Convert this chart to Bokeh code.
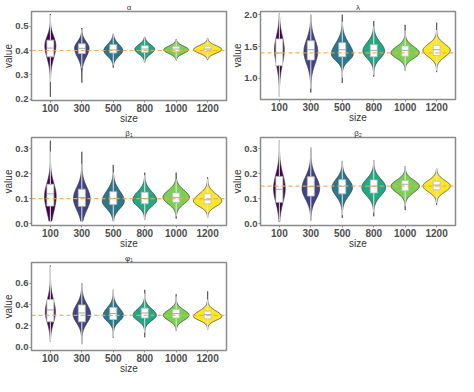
import numpy as np
from bokeh.plotting import figure
from bokeh.layouts import gridplot
from bokeh.models import Range1d, FixedTicker, Span, NumeralTickFormatter
from bokeh.embed import file_html
from bokeh.resources import INLINE

SIZES = ["100", "300", "500", "800", "1000", "1200"]
COLORS = ["#440154", "#414487", "#2A788E", "#22A884", "#7AD151", "#FDE725"]

# ---- alpha ----
ALPHA_LO = [0.21, 0.268, 0.33, 0.352, 0.36, 0.362]
ALPHA_HI = [0.55, 0.492, 0.468, 0.455, 0.446, 0.45]
ALPHA_MODE = [0.42, 0.41, 0.40, 0.405, 0.403, 0.404]
ALPHA_SD_DN = [0.05, 0.037, 0.023, 0.019, 0.015, 0.015]
ALPHA_SD_UP = [0.037, 0.026, 0.025, 0.019, 0.015, 0.016]
ALPHA_WIDTH = [0.35, 0.46, 0.60, 0.63, 0.79, 0.90]
ALPHA_Q1 = [0.374, 0.3875, 0.39, 0.3925, 0.395, 0.396]
ALPHA_MED = [0.41, 0.409, 0.4025, 0.406, 0.406, 0.406]
ALPHA_Q3 = [0.4425, 0.4275, 0.424, 0.42, 0.4175, 0.4175]
ALPHA_TRUE = 0.4

# ---- lambda ----
LAMBDA_LO = [0.72, 0.78, 0.93, 1.03, 1.12, 1.10]
LAMBDA_HI = [2.02, 2.00, 2.00, 1.90, 1.84, 1.875]
LAMBDA_MODE = [1.45, 1.42, 1.38, 1.43, 1.40, 1.44]
LAMBDA_SD_DN = [0.23, 0.19, 0.10, 0.115, 0.085, 0.10]
LAMBDA_SD_UP = [0.21, 0.19, 0.17, 0.135, 0.10, 0.10]
LAMBDA_WIDTH = [0.31, 0.44, 0.69, 0.69, 0.90, 0.87]
LAMBDA_Q1 = [1.20, 1.29, 1.34, 1.34, 1.35, 1.36]
LAMBDA_MED = [1.40, 1.45, 1.45, 1.44, 1.44, 1.45]
LAMBDA_Q3 = [1.62, 1.59, 1.56, 1.53, 1.51, 1.52]
LAMBDA_TRUE = 1.4

# ---- beta1 ----
BETA1_LO = [0.01, 0.01, 0.01, 0.016, 0.02, 0.0225]
BETA1_HI = [0.3325, 0.2875, 0.235, 0.204, 0.204, 0.185]
BETA1_MODE = [0.11, 0.10, 0.09, 0.095, 0.105, 0.09]
BETA1_SD_DN = [0.06, 0.045, 0.03, 0.026, 0.026, 0.021]
BETA1_SD_UP = [0.05, 0.045, 0.04, 0.032, 0.028, 0.028]
BETA1_WIDTH = [0.37, 0.53, 0.70, 0.76, 0.84, 0.90]
BETA1_Q1 = [0.07, 0.069, 0.076, 0.079, 0.085, 0.079]
BETA1_MED = [0.119, 0.104, 0.101, 0.10, 0.105, 0.095]
BETA1_Q3 = [0.1575, 0.1375, 0.1275, 0.125, 0.1225, 0.119]
BETA1_TRUE = 0.1

# ---- beta2 ----
BETA2_LO = [0.0075, 0.0125, 0.0225, 0.029, 0.054, 0.075]
BETA2_HI = [0.3325, 0.304, 0.251, 0.254, 0.229, 0.2225]
BETA2_MODE = [0.14, 0.14, 0.145, 0.145, 0.15, 0.15]
BETA2_SD_DN = [0.056, 0.042, 0.035, 0.033, 0.026, 0.023]
BETA2_SD_UP = [0.056, 0.047, 0.033, 0.033, 0.024, 0.023]
BETA2_WIDTH = [0.37, 0.56, 0.65, 0.76, 0.90, 0.87]
BETA2_Q1 = [0.085, 0.11, 0.119, 0.1225, 0.131, 0.135]
BETA2_MED = [0.1375, 0.1475, 0.15, 0.15, 0.1575, 0.154]
BETA2_Q3 = [0.189, 0.1875, 0.176, 0.175, 0.1725, 0.17]
BETA2_TRUE = 0.15

# ---- phi1 ----
PHI1_LO = [0.053, 0.03, 0.089, 0.094, 0.156, 0.164]
PHI1_HI = [0.767, 0.60, 0.539, 0.539, 0.497, 0.525]
PHI1_MODE = [0.33, 0.31, 0.30, 0.30, 0.30, 0.29]
PHI1_SD_DN = [0.10, 0.08, 0.056, 0.05, 0.047, 0.037]
PHI1_SD_UP = [0.115, 0.09, 0.07, 0.06, 0.05, 0.05]
PHI1_WIDTH = [0.32, 0.56, 0.64, 0.74, 0.82, 0.90]
PHI1_Q1 = [0.239, 0.239, 0.261, 0.275, 0.275, 0.267]
PHI1_MED = [0.35, 0.322, 0.317, 0.322, 0.317, 0.306]
PHI1_Q3 = [0.447, 0.397, 0.372, 0.367, 0.356, 0.339]
PHI1_TRUE = 0.3

PANELS = [
    dict(title="α", lo=ALPHA_LO, hi=ALPHA_HI, mode=ALPHA_MODE, sdn=ALPHA_SD_DN, sup=ALPHA_SD_UP,
         w=ALPHA_WIDTH, q1=ALPHA_Q1, med=ALPHA_MED, q3=ALPHA_Q3, true=ALPHA_TRUE,
         yr=(0.195, 0.56), ticks=[0.2, 0.3, 0.4, 0.5]),
    dict(title="λ", lo=LAMBDA_LO, hi=LAMBDA_HI, mode=LAMBDA_MODE, sdn=LAMBDA_SD_DN, sup=LAMBDA_SD_UP,
         w=LAMBDA_WIDTH, q1=LAMBDA_Q1, med=LAMBDA_MED, q3=LAMBDA_Q3, true=LAMBDA_TRUE,
         yr=(0.67, 2.05), ticks=[1.0, 1.5, 2.0]),
    dict(title="β₁", lo=BETA1_LO, hi=BETA1_HI, mode=BETA1_MODE, sdn=BETA1_SD_DN, sup=BETA1_SD_UP,
         w=BETA1_WIDTH, q1=BETA1_Q1, med=BETA1_MED, q3=BETA1_Q3, true=BETA1_TRUE,
         yr=(-0.008, 0.345), ticks=[0.0, 0.1, 0.2, 0.3]),
    dict(title="β₂", lo=BETA2_LO, hi=BETA2_HI, mode=BETA2_MODE, sdn=BETA2_SD_DN, sup=BETA2_SD_UP,
         w=BETA2_WIDTH, q1=BETA2_Q1, med=BETA2_MED, q3=BETA2_Q3, true=BETA2_TRUE,
         yr=(-0.008, 0.345), ticks=[0.0, 0.1, 0.2, 0.3]),
    dict(title="φ₁", lo=PHI1_LO, hi=PHI1_HI, mode=PHI1_MODE, sdn=PHI1_SD_DN, sup=PHI1_SD_UP,
         w=PHI1_WIDTH, q1=PHI1_Q1, med=PHI1_MED, q3=PHI1_Q3, true=PHI1_TRUE,
         yr=(-0.03, 0.795), ticks=[0.0, 0.2, 0.4, 0.6]),
]

FONT = "Liberation Sans"
BORDER = "#8a8a8a"


def make_panel(d, height):
    p = figure(width=229, height=height, x_range=Range1d(0.4, 6.6), y_range=Range1d(*d["yr"]),
               output_backend="svg", toolbar_location=None,
               min_border_left=0, min_border_right=3, min_border_top=0, min_border_bottom=0)
    p.title.text = d["title"]
    p.title.align = "center"
    p.title.text_font = FONT
    p.title.text_font_size = "8px"
    p.title.text_font_style = "normal"
    p.title.text_color = "#333333"
    p.title.standoff = 0
    p.title.offset = 0
    p.xgrid.visible = False
    p.ygrid.visible = False
    p.outline_line_color = BORDER
    p.outline_line_width = 1.5
    p.background_fill_color = "white"
    p.border_fill_color = "white"

    for i in range(len(SIZES)):
        x = i + 1
        lo, hi, m = d["lo"][i], d["hi"][i], d["mode"][i]
        y = np.linspace(lo, hi, 160)
        z = np.where(y < m, (y - m) / d["sdn"][i], (y - m) / d["sup"][i])
        hw = d["w"][i] / 2 * np.exp(-0.5 * z ** 2)
        xs = np.concatenate([x + hw, (x - hw)[::-1]])
        ys = np.concatenate([y, y[::-1]])
        p.patch(xs, ys, fill_color=COLORS[i], line_color="#2b2b2b", line_width=0.7)

        q1, med, q3 = d["q1"][i], d["med"][i], d["q3"][i]
        iqr = q3 - q1
        wtop = min(hi, q3 + 1.5 * iqr)
        wbot = max(lo, q1 - 1.5 * iqr)
        p.segment(x0=[x, x], y0=[q3, q1], x1=[x, x], y1=[wtop, wbot],
                  line_color="#e6e6e6", line_width=1)
        p.quad(left=x - 0.11, right=x + 0.11, bottom=q1, top=q3,
               fill_color="white", line_color="#bdbdbd", line_width=0.8)
        p.segment(x0=[x - 0.11], y0=[med], x1=[x + 0.11], y1=[med],
                  line_color="#a6a6a6", line_width=1)

    p.add_layout(Span(location=d["true"], dimension="width", line_color="#F5A942",
                      line_dash="4 3", line_width=1.2, line_alpha=0.9))

    for ax in (p.xaxis[0], p.yaxis[0]):
        ax.axis_line_color = None
        ax.major_tick_line_color = BORDER
        ax.major_tick_out = 2
        ax.major_tick_in = 0
        ax.minor_tick_line_color = None
        ax.major_label_text_font = FONT
        ax.major_label_text_font_style = "bold"
        ax.major_label_text_color = "#4d4d4d"
        ax.axis_label_text_font = FONT
        ax.axis_label_text_font_size = "10px"
        ax.axis_label_text_font_style = "normal"
        ax.axis_label_text_color = "#333333"
        ax.major_label_standoff = 1
        ax.axis_label_standoff = -2

    p.xaxis.major_label_text_font_size = "10px"
    p.yaxis.major_label_text_font_size = "9.5px"
    p.xaxis.ticker = FixedTicker(ticks=list(range(1, len(SIZES) + 1)))
    p.xaxis.major_label_overrides = {i + 1: s for i, s in enumerate(SIZES)}
    p.xaxis.axis_label = "size"
    p.yaxis.ticker = FixedTicker(ticks=d["ticks"])
    p.yaxis.formatter = NumeralTickFormatter(format="0.0")
    p.yaxis.axis_label = "value"
    return p


heights = [126, 125, 125, 125, 125]
figs = [make_panel(d, h) for d, h in zip(PANELS, heights)]
grid = gridplot([[figs[0], figs[1]], [figs[2], figs[3]], [figs[4], None]], toolbar_location=None)

open("out.html", "w").write(file_html(grid, INLINE))
